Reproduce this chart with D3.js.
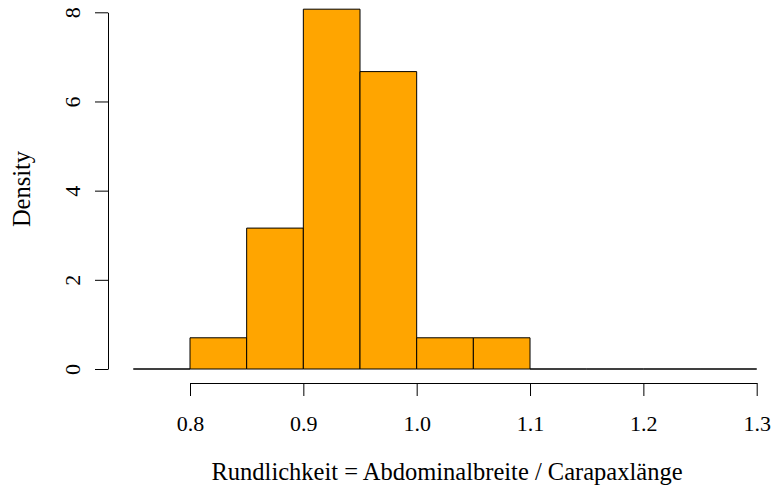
<!DOCTYPE html>
<html>
<head>
<meta charset="utf-8">
<script src="https://cdn.jsdelivr.net/npm/d3@7"></script>
<style>
  body { margin: 0; background: #fff; }
  svg text { font-family: "Liberation Serif", "DejaVu Serif", serif; fill: #000; }
</style>
</head>
<body>
<div id="chart"></div>
<script>
// Klassengrenzen (Breite 0.05) und Dichtewerte aus dem Histogramm
const binStarts = [0.75, 0.80, 0.85, 0.90, 0.95, 1.00, 1.05, 1.10, 1.15, 1.20, 1.25];
const densities = [0, 0.70, 3.16, 8.07, 6.67, 0.70, 0.70, 0, 0, 0, 0];
const binWidth = 0.05;
const xTicks = [0.8, 0.9, 1.0, 1.1, 1.2, 1.3];
const yTicks = [0, 2, 4, 6, 8];

const width = 771, height = 488;

const svg = d3.select('#chart').append('svg')
    .attr('width', width)
    .attr('height', height);

const x = d3.scaleLinear().domain([0.8, 1.3]).range([190, 756.7]);
const y = d3.scaleLinear().domain([0, 8]).range([369, 12.3]);

// Balken als geschlossene Pfade, damit auch leere Klassen als Linie erscheinen
svg.append('g')
  .selectAll('path')
  .data(binStarts.map((s, i) => ({ s, d: densities[i] })))
  .join('path')
    .attr('d', d => {
      const x0 = x(d.s), x1 = x(d.s + binWidth), y0 = y(0), y1 = y(d.d);
      return `M${x0},${y0}L${x0},${y1}L${x1},${y1}L${x1},${y0}Z`;
    })
    .attr('fill', '#ffa500')
    .attr('stroke', '#000')
    .attr('stroke-width', 1);

// x-Achse
const xAxis = svg.append('g')
    .attr('transform', 'translate(0,383)')
    .call(d3.axisBottom(x).tickValues(xTicks).tickSize(13).tickSizeOuter(0)
      .tickFormat(d3.format('.1f')));
xAxis.select('.domain').attr('stroke', '#000');
xAxis.selectAll('.tick line').attr('stroke', '#000');
xAxis.selectAll('.tick text')
    .attr('font-size', 22)
    .attr('dy', 0)
    .attr('y', 48)
    .style('font-family', '"Liberation Serif", serif');

// y-Achse
const yAxis = svg.append('g')
    .attr('transform', 'translate(108,0)')
    .call(d3.axisLeft(y).tickValues(yTicks).tickSize(13).tickSizeOuter(0));
yAxis.select('.domain').attr('stroke', '#000');
yAxis.selectAll('.tick line').attr('stroke', '#000');
yAxis.selectAll('.tick text')
    .attr('font-size', 22)
    .attr('x', 0)
    .attr('dy', 0)
    .attr('text-anchor', 'middle')
    .attr('transform', 'translate(-28,0) rotate(-90)')
    .attr('y', 0)
    .style('font-family', '"Liberation Serif", serif');

// Achsentitel
svg.append('text')
    .attr('x', 447)
    .attr('y', 480)
    .attr('text-anchor', 'middle')
    .attr('font-size', 24.5)
    .text('Rundlichkeit = Abdominalbreite / Carapaxlänge');

svg.append('text')
    .attr('transform', 'translate(30,189) rotate(-90)')
    .attr('text-anchor', 'middle')
    .attr('font-size', 24.5)
    .text('Density');
</script>
</body>
</html>
